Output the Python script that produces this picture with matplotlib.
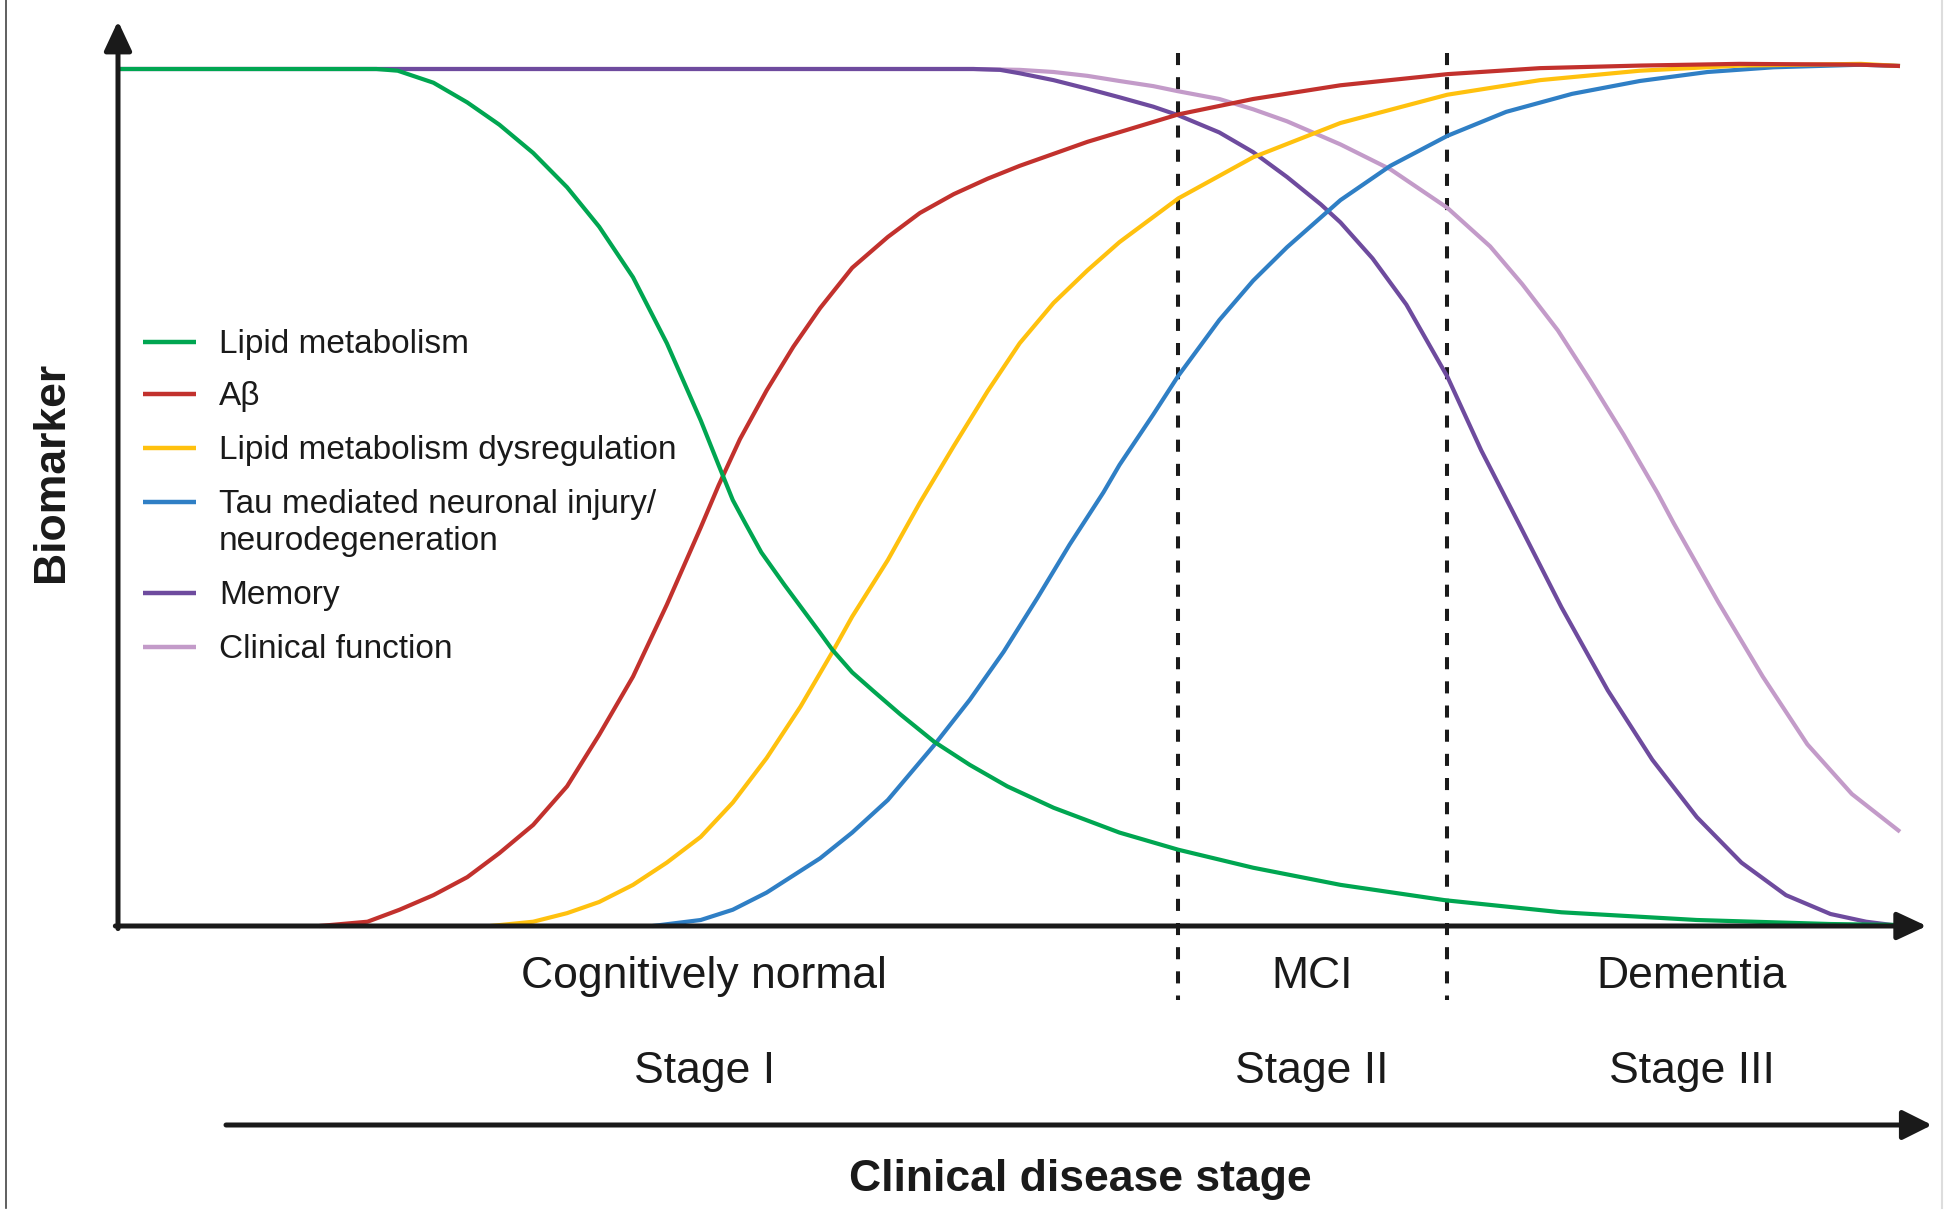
import matplotlib
matplotlib.use('Agg')
import matplotlib.pyplot as plt
from matplotlib.lines import Line2D
from matplotlib.patches import FancyArrowPatch

plt.rcParams['font.family'] = ['Liberation Sans', 'DejaVu Sans']

# disease progression (0-100) vs biomarker level (0-100)
lipid_x = [0, 14.5, 15.7, 17.7, 19.6, 21.4, 23.3, 25.2, 27.0, 28.9, 30.8, 32.7, 33.7, 34.5,
           35.2, 36.1, 37.4, 39.4, 40.1, 41.2, 42.4, 43.9, 45.8, 47.8, 49.9, 52.5, 56.2,
           59.5, 63.7, 68.6, 74.5, 81.0, 88.6, 96.1, 100]
lipid_y = [100, 100, 99.8, 98.4, 96.1, 93.5, 90.2, 86.2, 81.6, 75.7, 68.0, 59.0, 53.8, 49.7,
           47.0, 43.6, 39.8, 34.2, 32.2, 29.6, 27.4, 24.7, 21.5, 18.8, 16.3, 13.8, 10.9,
           8.9, 6.8, 4.8, 3.0, 1.6, 0.7, 0.23, 0.12]

abeta_x = [11.3, 14.0, 15.8, 17.7, 19.6, 21.4, 23.3, 25.2, 27.0, 28.9, 30.8, 32.7, 33.7,
           34.9, 36.4, 37.9, 39.4, 41.2, 43.2, 45.0, 46.9, 48.8, 50.6, 54.4, 59.5, 63.7,
           68.6, 74.6, 79.8, 85.4, 91.0, 97.8, 100]
abeta_y = [0, 0.5, 1.9, 3.6, 5.7, 8.5, 11.8, 16.3, 22.3, 29.1, 37.5, 46.5, 51.4,
           56.8, 62.5, 67.6, 72.1, 76.8, 80.4, 83.2, 85.4, 87.2, 88.7, 91.5, 94.7, 96.5,
           98.1, 99.4, 100.1, 100.4, 100.6, 100.5, 100.35]

dysreg_x = [20.9, 23.3, 25.2, 27.0, 28.9, 30.8, 32.7, 34.5, 36.4, 38.3, 40.1, 41.2, 43.2,
            45.0, 46.9, 48.8, 50.6, 52.5, 54.4, 56.2, 59.5, 63.7, 68.6, 74.6, 79.8,
            85.4, 91.0, 97.8, 100]
dysreg_y = [0, 0.5, 1.5, 2.8, 4.8, 7.4, 10.4, 14.4, 19.6, 25.6, 32.0, 36.1, 42.7,
            49.4, 56.0, 62.4, 68.0, 72.7, 76.5, 79.8, 84.9, 89.7, 93.7, 97.0, 98.7,
            99.8, 100.4, 100.6, 100.35]

tau_x = [30.0, 32.7, 34.5, 36.4, 39.4, 41.2, 43.2, 45.8, 47.8, 49.7, 51.6, 53.4, 55.3,
         56.2, 58.1, 59.5, 61.8, 63.7, 65.6, 68.6, 71.4, 74.6, 77.9, 81.6, 85.4,
         89.2, 92.9, 97.8, 100]
tau_y = [0, 0.7, 1.9, 3.9, 7.9, 10.9, 14.7, 21.1, 26.4, 32.0, 38.3, 44.5, 50.6,
         53.8, 59.7, 64.2, 70.7, 75.3, 79.2, 84.7, 88.7, 92.2, 95.0, 97.1, 98.6,
         99.65, 100.2, 100.5, 100.35]

memory_x = [0, 48.0, 49.5, 50.6, 52.5, 54.4, 56.2, 58.1, 59.5, 61.8, 63.7, 65.6, 67.5, 68.6,
            70.4, 72.3, 74.6, 76.5, 78.6, 81.0, 83.6, 86.1, 88.6, 91.1, 93.6, 96.1,
            98.1, 100]
memory_y = [100, 100, 99.9, 99.5, 98.7, 97.7, 96.7, 95.6, 94.6, 92.6, 90.3, 87.4, 84.2, 82.1,
            77.9, 72.5, 64.1, 55.5, 47.0, 37.2, 27.5, 19.4, 12.7, 7.4, 3.6, 1.4,
            0.5, 0]

clinical_x = [0, 48.0, 50.6, 52.5, 54.4, 56.2, 58.1, 59.5, 61.8, 63.7, 65.6, 68.6, 71.4,
              74.6, 77.0, 78.8, 80.8, 82.6, 84.5, 86.4, 87.3, 89.8, 92.3, 94.8, 97.3, 100]
clinical_y = [100, 100, 99.9, 99.65, 99.2, 98.6, 98.0, 97.4, 96.5, 95.3, 93.9, 91.2, 88.3,
              83.8, 79.3, 74.9, 69.5, 63.7, 57.3, 50.5, 47.0, 37.8, 29.1, 21.2, 15.4, 11.0]

# stage boundaries on the progression axis
stage_bounds = [59.5, 74.6]
phase_names = ['Cognitively normal', 'MCI', 'Dementia']
stage_names = ['Stage I', 'Stage II', 'Stage III']
phase_centers = [32.9, 67.0, 88.3]

series = [
    ('Lipid metabolism', lipid_x, lipid_y, '#00a651'),
    ('A\u03b2', abeta_x, abeta_y, '#c2312d'),
    ('Lipid metabolism dysregulation', dysreg_x, dysreg_y, '#ffc10e'),
    ('Tau mediated neuronal injury/\nneurodegeneration', tau_x, tau_y, '#2f7fc5'),
    ('Memory', memory_x, memory_y, '#6e4b9e'),
    ('Clinical function', clinical_x, clinical_y, '#c39bc9'),
]

W, H = 1950, 1214
ink = '#1a1a1a'


def fx(px):
    return px / W


def fy(py):
    return 1 - py / H


fig = plt.figure(figsize=(W / 100, H / 100), dpi=100)
fig.patch.set_facecolor('white')
ax = fig.add_axes([fx(118), fy(926), (1900 - 118) / W, (926 - 69) / H])
ax.set_xlim(0, 100)
ax.set_ylim(0, 100)
ax.axis('off')

# curves: first series on top, last at the bottom
for i, (name, xs, ys, col) in enumerate(series):
    ax.plot(xs, ys, color=col, lw=3.0, clip_on=False, solid_capstyle='butt',
            solid_joinstyle='round', zorder=4 - i * 0.1)

# stage dividers
for b in stage_bounds:
    ax.plot([b, b], [101.9, -8.6], color=ink, lw=2.9, ls=(0, (3, 3)), clip_on=False, zorder=2)

# axes with arrow heads
arrow_kw = dict(arrowstyle='-|>,head_length=0.9,head_width=0.42', lw=3.6, color=ink,
                mutation_scale=20, shrinkA=0, shrinkB=0)
ax.annotate('', xy=(0, 105.6), xytext=(0, -0.3), arrowprops=arrow_kw, annotation_clip=False, zorder=5)
ax.annotate('', xy=(101.5, 0), xytext=(-0.15, 0), arrowprops=arrow_kw, annotation_clip=False, zorder=5)

# phase and stage labels
for c, ph, st in zip(phase_centers, phase_names, stage_names):
    ax.text(c, (926 - 988) / 8.57, ph, ha='center', va='baseline', fontsize=32, color=ink, clip_on=False)
    ax.text(c, (926 - 1083) / 8.57, st, ha='center', va='baseline', fontsize=32, color=ink, clip_on=False)

# bottom progression arrow
fig.add_artist(FancyArrowPatch(
    (fx(226), fy(1125)), (fx(1932), fy(1125)), transform=fig.transFigure,
    arrowstyle='-|>,head_length=0.9,head_width=0.45', lw=3.6, color=ink, mutation_scale=20,
    shrinkA=0, shrinkB=0))

fig.text(fx(1080), fy(1191), 'Clinical disease stage', ha='center', va='baseline',
         fontsize=32, fontweight='bold', color=ink)
fig.text(fx(52), fy(472), 'Biomarker', ha='center', va='center', rotation=90,
         fontsize=32, fontweight='bold', color=ink)

# legend, drawn by hand so the two-line entry keeps its handle at the first line
legend_y = [342, 394, 448, 502, 593, 647]
for (name, xs, ys, col), ly in zip(series, legend_y):
    fig.add_artist(Line2D([fx(143), fx(196)], [fy(ly), fy(ly)], color=col, lw=3.2,
                          transform=fig.transFigure, solid_capstyle='butt'))
    for k, part in enumerate(name.split('\n')):
        fig.text(fx(219), fy(ly + 11 + 37 * k), part, ha='left', va='baseline',
                 fontsize=24, color=ink)

# image border lines
fig.add_artist(Line2D([fx(6), fx(6)], [fy(0), fy(1208)], color='#444444', lw=1.2,
                      transform=fig.transFigure))
fig.add_artist(Line2D([fx(1942), fx(1942)], [fy(0), fy(1208)], color='#dddddd', lw=1.5,
                      transform=fig.transFigure))

fig.savefig('out.png', dpi=100, facecolor='white')
